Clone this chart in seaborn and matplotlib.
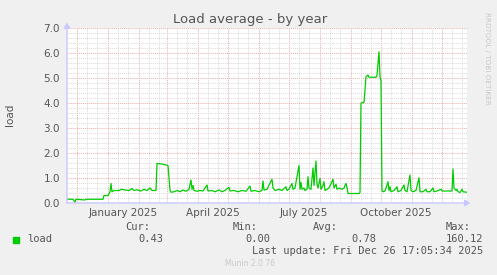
import numpy as np
import pandas as pd
import matplotlib
matplotlib.use("Agg")
import matplotlib.pyplot as plt
import matplotlib.dates as mdates
import matplotlib.transforms as mtransforms
import seaborn as sns

# ---- data ----
start_date = "2024-11-21"
day_offsets = [0, 6, 8, 9, 18, 19, 36, 37, 41, 43, 44, 45, 47, 52, 55, 58, 62, 65, 67, 70,
               74, 77, 80, 83, 85, 89, 90, 95, 99, 101, 103, 104, 107, 110, 113, 116, 119,
               122, 124, 125, 126, 127, 130, 133, 136, 140, 141, 145, 148, 152, 155, 158,
               162, 163, 167, 171, 175, 179, 183, 184, 188, 192, 195, 196, 197, 200, 205,
               206, 208, 212, 215, 219, 220, 222, 225, 226, 228, 232, 233, 234, 235, 237,
               238, 240, 241, 242, 244, 246, 247, 249, 250, 251, 253, 254, 256, 257, 258,
               260, 262, 266, 267, 269, 270, 272, 275, 277, 279, 280, 281, 292, 293, 294,
               297, 299, 301, 302, 309, 310, 312, 313, 314, 315, 316, 318, 321, 322, 323,
               324, 327, 330, 331, 334, 337, 338, 340, 343, 344, 346, 349, 352, 353, 356,
               359, 360, 363, 366, 367, 370, 374, 375, 385, 386, 387, 389, 390, 391, 393,
               395, 396, 400]
load_values = [0.15, 0.15, 0.03, 0.15, 0.12, 0.15, 0.15, 0.30, 0.30, 0.45, 0.78, 0.45, 0.50,
               0.50, 0.55, 0.52, 0.50, 0.58, 0.50, 0.53, 0.48, 0.55, 0.50, 0.60, 0.50, 0.50,
               1.58, 1.56, 1.52, 1.50, 0.50, 0.43, 0.45, 0.50, 0.45, 0.52, 0.47, 0.55, 0.92,
               0.55, 0.70, 0.50, 0.47, 0.50, 0.48, 0.72, 0.48, 0.50, 0.45, 0.52, 0.45, 0.50,
               0.63, 0.48, 0.50, 0.45, 0.50, 0.47, 0.68, 0.47, 0.50, 0.45, 0.50, 0.88, 0.52,
               0.55, 0.95, 0.60, 0.50, 0.55, 0.50, 0.65, 0.50, 0.55, 0.78, 0.55, 0.60, 1.50,
               0.55, 0.82, 0.55, 0.60, 0.50, 0.55, 1.05, 0.60, 0.55, 1.40, 0.70, 1.68, 0.75,
               0.60, 0.98, 0.55, 0.70, 0.85, 0.50, 0.55, 0.60, 0.95, 0.60, 0.75, 0.55, 0.60,
               0.55, 0.60, 0.78, 0.62, 0.38, 0.38, 0.42, 4.00, 4.02, 5.05, 5.12, 5.03, 5.03,
               5.10, 6.05, 5.05, 4.90, 0.50, 0.45, 0.48, 0.85, 0.50, 0.65, 0.45, 0.50, 0.65,
               0.45, 0.50, 0.72, 0.50, 0.45, 1.12, 0.50, 0.45, 0.50, 1.01, 0.45, 0.45, 0.55,
               0.45, 0.45, 0.60, 0.45, 0.48, 0.55, 0.48, 0.48, 1.36, 0.60, 0.50, 0.55, 0.45,
               0.42, 0.55, 0.45, 0.43]
x_labels = ["January 2025", "April 2025", "July 2025", "October 2025"]
x_label_dates = ["2025-01-16", "2025-04-16", "2025-07-16", "2025-10-16"]
y_ticks = [0, 1, 2, 3, 4, 5, 6, 7]
legend_stats = {"Cur:": "0.43", "Min:": "0.00", "Avg:": "0.78", "Max:": "160.12"}
last_update = "Last update: Fri Dec 26 17:05:34 2025"
end_date = "2025-12-26"

df = pd.DataFrame({
    "date": pd.Timestamp(start_date) + pd.to_timedelta(day_offsets, unit="D"),
    "load": load_values,
})

W, H = 497, 275
fig = plt.figure(figsize=(W / 100, H / 100), dpi=100)
fig.patch.set_facecolor("#F0F0F0")
plt.rcParams["font.family"] = ["DejaVu Sans"]

L, R, T, B = 67, 467, 28, 203
ax = fig.add_axes([L / W, 1 - B / H, (R - L) / W, (B - T) / H])
ax.set_facecolor("white")

x0 = pd.Timestamp(start_date)
x1 = pd.Timestamp(end_date)
ax.set_xlim(x0, x1)
ax.set_ylim(0, 7)

# grid
months = pd.date_range("2024-12-01", "2025-12-01", freq="MS")
minor_days = [d + pd.Timedelta(days=k) for d in pd.date_range("2024-11-01", "2025-12-01", freq="MS")
              for k in (10, 20)]
minor_days = [d for d in minor_days if x0 < d < x1]
ax.set_xticks(months)
ax.set_xticks(minor_days, minor=True)
ax.set_yticks(y_ticks)
ax.set_yticks(np.arange(0, 7.01, 0.2), minor=True)
ax.grid(which="minor", color="#DADADA", linestyle=(0, (1, 1)), linewidth=0.7, zorder=0)
ax.grid(which="major", color="#EBAEAE", linestyle=(0, (1, 1)), linewidth=0.7, zorder=0)
ax.set_axisbelow(True)
ax.set_xticklabels([])
ax.tick_params(axis="x", which="both", length=0)
ax.tick_params(axis="y", which="both", length=0, pad=5, labelsize=7.5, colors="#555555")
ax.set_yticklabels([f"{v:.1f}" for v in y_ticks])

for s in ax.spines.values():
    s.set_visible(False)

sns.lineplot(data=df, x="date", y="load", ax=ax, color="#00CC00", linewidth=0.9, zorder=3)
ax.set_xlabel("")
ax.set_ylabel("")

# axis lines with arrows
axc = "#C8C8FF"
fig.add_artist(matplotlib.patches.FancyArrowPatch(
    (L / W, 1 - (B + 3) / H), (L / W, 1 - 20 / H), transform=fig.transFigure,
    arrowstyle="-|>,head_length=3,head_width=2", color=axc, lw=1, mutation_scale=1))
fig.add_artist(matplotlib.patches.FancyArrowPatch(
    ((L - 3) / W, 1 - B / H), ((R + 6) / W, 1 - B / H), transform=fig.transFigure,
    arrowstyle="-|>,head_length=3,head_width=2", color=axc, lw=1, mutation_scale=1))

# x labels
trans = mtransforms.blended_transform_factory(ax.transData, fig.transFigure)
for lab, d in zip(x_labels, x_label_dates):
    ax.text(mdates.date2num(pd.Timestamp(d)), 1 - 213 / H, lab, transform=trans,
            ha="center", va="center", fontsize=7.5, color="#555555")

# title, ylabel, watermark
fig.text(250 / W, 1 - 19 / H, "Load average - by year", ha="center", va="center",
         fontsize=9.5, color="#555555")
fig.text(10 / W, 1 - 115 / H, "load", rotation=90, ha="center", va="center",
         fontsize=7.5, color="#555555")
fig.text(487 / W, 1 - 58 / H, "RRDTOOL / TOBI OETIKER", rotation=270, ha="center",
         va="center", fontsize=5.2, color="#C8C8C8")

# legend area
mono = "DejaVu Sans Mono"
fig.add_artist(matplotlib.patches.Rectangle((13 / W, 1 - 243 / H), 6 / W, 6 / H,
                                            transform=fig.transFigure, color="#00CC00"))
fig.text(27 / W, 1 - 239 / H, "load", family=mono, fontsize=7.5, color="#555555",
         ha="left", va="center")
hdr_x = [150, 258, 338, 471]
val_x = [163, 270, 376, 483]
for (k, v), hx, vx in zip(legend_stats.items(), hdr_x, val_x):
    fig.text(hx / W, 1 - 227 / H, k, family=mono, fontsize=7.5, color="#555555",
             ha="right", va="center")
    fig.text(vx / W, 1 - 239 / H, v, family=mono, fontsize=7.5, color="#555555",
             ha="right", va="center")
fig.text(483 / W, 1 - 251 / H, last_update, family=mono, fontsize=7.5, color="#555555",
         ha="right", va="center")
fig.text(250 / W, 1 - 264 / H, "Munin 2.0.76", ha="center", va="center",
         fontsize=5.5, color="#C8C8C8")

fig.savefig("out.png", dpi=100, facecolor=fig.get_facecolor())
